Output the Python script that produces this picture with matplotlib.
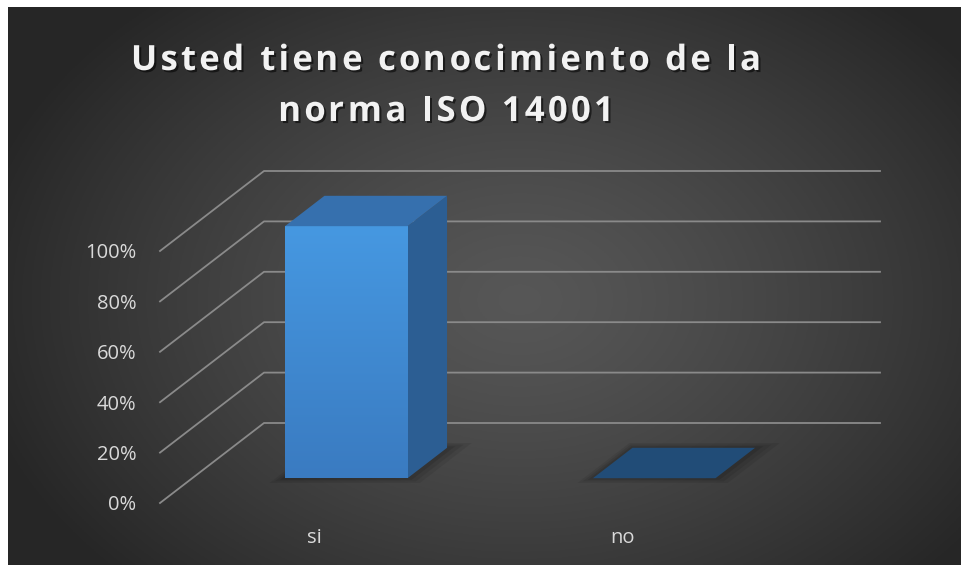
import numpy as np
import matplotlib
matplotlib.use("Agg")
import matplotlib.pyplot as plt
import matplotlib.patheffects as pe
from matplotlib.patches import Polygon
from matplotlib.font_manager import FontProperties

categories = ["si", "no"]
values = [100, 0]
yticks = [0, 20, 40, 60, 80, 100]
ytick_labels = ["0%", "20%", "40%", "60%", "80%", "100%"]
title_lines = ["Usted tiene conocimiento de la", "norma ISO 14001"]

W, H = 961, 565
fig = plt.figure(figsize=(W / 100, H / 100), dpi=100, facecolor="white")

# background: dark radial gradient, small white margin top/left
bg = fig.add_axes([0, 0, 1, 1])
bg.set_xlim(0, W)
bg.set_ylim(H, 0)
bg.axis("off")
gx, gy = np.meshgrid(np.linspace(8, W, 400), np.linspace(7, H, 240))
r = np.sqrt(((gx - 520) / 560) ** 2 + ((gy - 300) / 400) ** 2)
r = np.clip(r, 0, 1)
shade = 0.34 - 0.19 * r ** 1.3
bg.imshow(np.dstack([shade] * 3), extent=(8, W, H, 7), aspect="auto", zorder=0)

# main axes, oblique projection for the 3d look
ax = fig.add_axes([160 / W, 62 / H, 616 / W, 252 / H])
ax.patch.set_alpha(0)
for s in ax.spines.values():
    s.set_visible(False)

DX, DY = 104 / 308, 80 / 2.52  # depth vector in data units


def proj(x, y, d):
    return x + d * DX, y + d * DY


grid_kw = dict(color="#8a8a8a", lw=1.3, clip_on=False, zorder=1)
for t in yticks:
    x0, y0 = proj(0, t, 0)
    x1, y1 = proj(0, t, 1)
    x2, y2 = proj(len(categories), t, 1)
    ax.plot([x0, x1, x2], [y0, y1, y2], **grid_kw)

hw = 0.199
d0, d1 = 0.31, 0.69
for i, v in enumerate(values):
    c = i + 0.5
    xl, xr = c - hw, c + hw
    # soft shadow on the floor, a few layers
    for k, a in [(0.06, 0.07), (0.04, 0.08), (0.02, 0.10)]:
        sh = [proj(xl - k / 2, 0, d0 - k), proj(xr + k, 0, d0 - k),
              proj(xr + k, 0, d1 + k), proj(xl - k / 2, 0, d1 + k)]
        ax.add_patch(Polygon(sh, closed=True, fc="black", ec="none", alpha=a, clip_on=False, zorder=2))
    top_col = "#3670ae" if v > 0 else "#214c77"
    if v > 0:
        fx0, fy0 = proj(xl, 0, d0)
        fx1, fy1 = proj(xr, v, d0)
        grad = np.linspace(0, 1, 100)[:, None]
        c_top = np.array([0x46, 0x98, 0xe1]) / 255
        c_bot = np.array([0x3a, 0x7b, 0xc1]) / 255
        img = c_top[None, None, :] * (1 - grad[..., None]) + c_bot[None, None, :] * grad[..., None]
        img = np.repeat(img, 2, axis=1)
        ax.imshow(img, extent=(fx0, fx1, fy0, fy1), aspect="auto", zorder=4, clip_on=False)
        side = [proj(xr, 0, d0), proj(xr, 0, d1), proj(xr, v, d1), proj(xr, v, d0)]
        ax.add_patch(Polygon(side, closed=True, fc="#2c5e93", ec="none", clip_on=False, zorder=3))
    top = [proj(xl, v, d0), proj(xr, v, d0), proj(xr, v, d1), proj(xl, v, d1)]
    ax.add_patch(Polygon(top, closed=True, fc=top_col, ec="none", clip_on=False, zorder=5))

ax.set_xlim(0, len(categories))
ax.set_ylim(0, 100)
ax.set_yticks(yticks)
ax.set_yticklabels(ytick_labels)
ax.set_xticks([i + 0.5 for i in range(len(categories))])
ax.set_xticklabels(categories)
ax.tick_params(axis="y", length=0, pad=17, labelsize=14.5, labelcolor="#d9d9d9")
ax.tick_params(axis="x", length=0, pad=18, labelsize=14.5, labelcolor="#d9d9d9")
for lab in ax.get_xticklabels() + ax.get_yticklabels():
    lab.set_fontfamily("Open Sans")

# title with extra letter spacing (drawn char by char, in pixel coords of bg)
tprop = FontProperties(family="Open Sans", weight="bold", size=25)
renderer = fig.canvas.get_renderer()
track = 3.2  # px between letters
shadow = [pe.withSimplePatchShadow(offset=(1.5, -1.5), shadow_rgbFace="black", alpha=0.55)]


def text_w(s):
    w1, _, _ = renderer.get_text_width_height_descent(s + "x", tprop, ismath=False)
    w2, _, _ = renderer.get_text_width_height_descent("x", tprop, ismath=False)
    return w1 - w2


for line, base_y in zip(title_lines, [70, 121]):
    total = text_w(line) + track * (len(line) - 1)
    x0 = 446 - total / 2
    for k, ch in enumerate(line):
        if ch == " ":
            continue
        bg.text(x0 + text_w(line[:k]) + track * k, base_y, ch, fontproperties=tprop,
                color="#f2f2f2", ha="left", va="baseline", path_effects=shadow, zorder=5)

fig.savefig("out.png", dpi=100, facecolor="white")
